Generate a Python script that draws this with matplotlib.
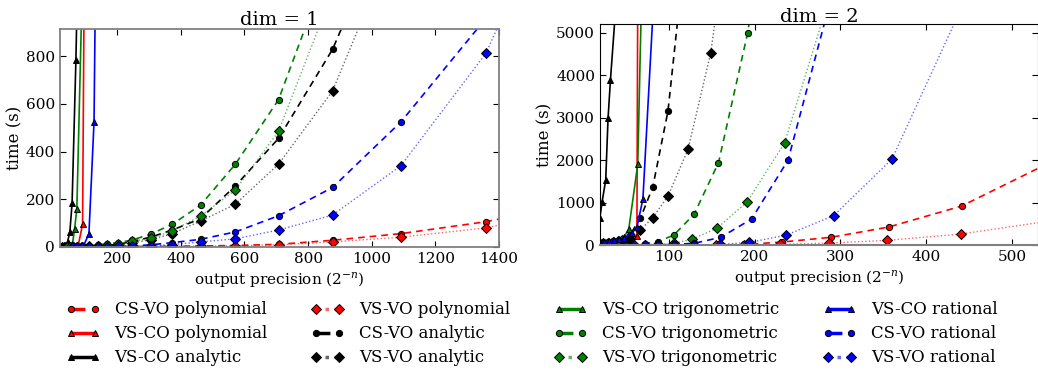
import matplotlib
matplotlib.use('Agg')
import matplotlib.pyplot as plt

plt.rcParams['font.family'] = ['DejaVu Serif']
plt.rcParams['mathtext.fontset'] = 'dejavuserif'
plt.rcParams['lines.dashed_pattern'] = [4, 3]
plt.rcParams['lines.dotted_pattern'] = [1, 1.6]

# ---- dim = 1 ----
# CS-VO / VS-VO runs
poly_cs1_x = [41, 61, 90, 138, 203, 247, 305, 373, 462, 571, 707, 877, 1092, 1359, 1690]
poly_cs1_y = [0, 0, 0.1, 0.2, 0.4, 0.7, 1, 2, 3, 5, 10, 27, 55, 105, 194]
poly_vv1_x = [41, 61, 90, 138, 203, 247, 305, 373, 462, 571, 707, 877, 1092, 1359, 1690]
poly_vv1_y = [0, 0, 0.1, 0.2, 0.3, 0.5, 0.8, 1.5, 2.5, 4, 8, 20, 40, 79, 175]

ana_cs1_x = [27, 33, 41, 50, 61, 74, 90, 110, 138, 167, 203, 247, 305, 373, 462, 571, 707, 877, 1092]
ana_cs1_y = [0, 0, 0, 0.1, 0.2, 0.4, 0.7, 1.2, 3, 5, 10, 22, 40, 70, 118, 255, 455, 830, 1500]
ana_vv1_x = [27, 33, 41, 50, 61, 74, 90, 110, 138, 167, 203, 247, 305, 373, 462, 571, 707, 877, 1092]
ana_vv1_y = [0, 0, 0, 0.1, 0.1, 0.2, 0.4, 0.8, 2, 4, 7, 15, 30, 55, 108, 178, 347, 655, 1350]

trig_cs1_x = [41, 50, 61, 74, 90, 110, 138, 167, 203, 247, 305, 373, 462, 571, 707, 877]
trig_cs1_y = [0, 0.1, 0.2, 0.5, 1, 3, 8, 12, 17, 28, 53, 94, 175, 346, 618, 1230]
trig_vv1_x = [41, 50, 61, 74, 90, 110, 138, 167, 203, 247, 305, 373, 462, 571, 707, 877]
trig_vv1_y = [0, 0.1, 0.2, 0.4, 0.8, 2, 5, 8, 12, 22, 35, 67, 129, 238, 485, 1070]

rat_cs1_x = [61, 74, 90, 110, 138, 167, 203, 247, 305, 373, 462, 571, 707, 877, 1092, 1359]
rat_cs1_y = [0, 0, 0.1, 0.2, 0.4, 0.8, 1.5, 3, 8, 17, 31, 62, 130, 249, 525, 960]
rat_vv1_x = [61, 74, 90, 110, 138, 167, 203, 247, 305, 373, 462, 571, 707, 877, 1092, 1359, 1690]
rat_vv1_y = [0, 0, 0.1, 0.1, 0.3, 0.5, 1, 2, 3, 9, 20, 33, 70, 133, 341, 813, 1800]

# VS-CO runs
ana_vc1_x = [22, 26, 30, 37, 44, 51, 58, 70, 80]
ana_vc1_y = [0, 0.5, 2, 6, 21, 63, 182, 783, 1450]
trig_vc1_x = [37, 44, 51, 59, 66, 73, 90]
trig_vc1_y = [0, 0.5, 3, 10, 75, 160, 1100]
poly_vc1_x = [37, 51, 65, 77, 91, 100]
poly_vc1_y = [0, 0, 0.5, 3, 95, 1900]
rat_vc1_x = [51, 65, 80, 94, 111, 127, 140]
rat_vc1_y = [0, 0, 0.5, 3, 55, 525, 2200]

# ---- dim = 2 ----
poly_cs2_x = [88, 106, 130, 155, 188, 232, 288.5, 356, 441, 545]
poly_cs2_y = [0.5, 1, 2, 5, 20, 78, 188, 430, 924, 1960]
poly_vv2_x = [106, 130, 155, 188, 230, 287, 354, 440, 545]
poly_vv2_y = [0.5, 1, 3, 8, 20, 54, 117, 266, 577]
poly_vc2_x = [20, 25, 30, 36, 42, 48, 56, 63, 64.5]
poly_vc2_y = [5, 10, 15, 20, 30, 50, 85, 220, 9000]

ana_cs2_x = [20, 24, 29, 35, 41, 46, 55, 67, 81.4, 99.2, 121]
ana_cs2_y = [60, 70, 80, 100, 110, 130, 250, 635, 1363, 3160, 7280]
ana_vv2_x = [20, 24, 29, 35, 41, 46, 55, 67, 81.4, 99.2, 122.5, 149, 182]
ana_vv2_y = [40, 50, 60, 80, 100, 120, 150, 360, 650, 1160, 2257, 4530, 9450]
ana_vc2_x = [19.8, 22.5, 26.7, 29.4, 32.2, 38]
ana_vc2_y = [635, 1025, 1535, 2985, 3887, 5500]

trig_cs2_x = [30, 40, 50, 60, 72, 88, 106, 129.5, 158, 192, 235]
trig_cs2_y = [2, 3, 5, 10, 40, 90, 242, 729, 1943, 5000, 10700]
trig_vv2_x = [40, 50, 60, 72, 88, 106, 127, 156, 191.5, 235, 287]
trig_vv2_y = [1, 2, 4, 8, 20, 50, 141, 400, 1025, 2413, 5820]
trig_vc2_x = [20, 25, 30, 36, 42, 48, 53.5, 64, 70]
trig_vc2_y = [40, 60, 80, 100, 130, 200, 376, 1912, 7300]

rat_cs2_x = [50, 60, 72, 88, 106, 130, 160.5, 196.5, 239, 292]
rat_cs2_y = [1, 2, 4, 8, 20, 50, 188, 618, 2006, 6034]
rat_vv2_x = [60, 72, 88, 106, 130, 160, 194, 237, 292, 360, 441]
rat_vv2_y = [1, 2, 3, 5, 10, 20, 70, 242, 697, 2030, 5594]
rat_vc2_x = [20, 25, 30, 36, 42, 48, 57, 63, 70, 85]
rat_vc2_y = [60, 80, 100, 120, 150, 180, 290, 420, 1090, 6700]

colors = {'polynomial': 'r', 'analytic': 'k', 'trigonometric': 'g', 'rational': 'b'}
# linestyle, marker, linewidth, line alpha, marker size
styles = {'CS-VO': ('--', 'o', 1.2, 1.0, 4.5),
          'VS-CO': ('-', '^', 1.2, 1.0, 5),
          'VS-VO': (':', 'D', 1.0, 0.6, 5.3)}

series1 = [
    ('CS-VO', 'polynomial', poly_cs1_x, poly_cs1_y),
    ('VS-CO', 'polynomial', poly_vc1_x, poly_vc1_y),
    ('VS-VO', 'polynomial', poly_vv1_x, poly_vv1_y),
    ('CS-VO', 'analytic', ana_cs1_x, ana_cs1_y),
    ('VS-CO', 'analytic', ana_vc1_x, ana_vc1_y),
    ('VS-VO', 'analytic', ana_vv1_x, ana_vv1_y),
    ('CS-VO', 'trigonometric', trig_cs1_x, trig_cs1_y),
    ('VS-CO', 'trigonometric', trig_vc1_x, trig_vc1_y),
    ('VS-VO', 'trigonometric', trig_vv1_x, trig_vv1_y),
    ('CS-VO', 'rational', rat_cs1_x, rat_cs1_y),
    ('VS-CO', 'rational', rat_vc1_x, rat_vc1_y),
    ('VS-VO', 'rational', rat_vv1_x, rat_vv1_y),
]
series2 = [
    ('CS-VO', 'polynomial', poly_cs2_x, poly_cs2_y),
    ('VS-CO', 'polynomial', poly_vc2_x, poly_vc2_y),
    ('VS-VO', 'polynomial', poly_vv2_x, poly_vv2_y),
    ('CS-VO', 'analytic', ana_cs2_x, ana_cs2_y),
    ('VS-CO', 'analytic', ana_vc2_x, ana_vc2_y),
    ('VS-VO', 'analytic', ana_vv2_x, ana_vv2_y),
    ('CS-VO', 'trigonometric', trig_cs2_x, trig_cs2_y),
    ('VS-CO', 'trigonometric', trig_vc2_x, trig_vc2_y),
    ('VS-VO', 'trigonometric', trig_vv2_x, trig_vv2_y),
    ('CS-VO', 'rational', rat_cs2_x, rat_cs2_y),
    ('VS-CO', 'rational', rat_vc2_x, rat_vc2_y),
    ('VS-VO', 'rational', rat_vv2_x, rat_vv2_y),
]

# legend order, read column by column
legend_order = [
    'CS-VO polynomial', 'VS-CO polynomial', 'VS-CO analytic',
    'VS-VO polynomial', 'CS-VO analytic', 'VS-VO analytic',
    'VS-CO trigonometric', 'CS-VO trigonometric', 'VS-VO trigonometric',
    'VS-CO rational', 'CS-VO rational', 'VS-VO rational',
]

fig = plt.figure(figsize=(10.38, 3.74), dpi=100)
ax1 = fig.add_axes([0.0578, 0.3404, 0.4229, 0.582])
ax2 = fig.add_axes([0.578, 0.344, 0.422, 0.591])


def draw(ax, series):
    handles = {}
    for method, func, xs, ys in series:
        ls, mk, lw, alpha, ms = styles[method]
        c = colors[func]
        line, = ax.plot(xs, ys, linestyle=ls, marker=mk,
                        color=matplotlib.colors.to_rgba(c, alpha), lw=lw,
                        markersize=ms, markeredgecolor='k',
                        markeredgewidth=0.7, markerfacecolor=c)
        handles[method + ' ' + func] = line
    ax.tick_params(direction='in', top=True, right=True, labelsize=11, length=4)
    ax.set_xlabel(r'output precision ($2^{-n}$)', fontsize=11, labelpad=3)
    ax.set_ylabel('time (s)', fontsize=12, labelpad=2)
    return handles


h1 = draw(ax1, series1)
ax1.set_xlim(20, 1400)
ax1.set_ylim(0, 915)
ax1.set_xticks([200, 400, 600, 800, 1000, 1200, 1400])
ax1.set_yticks([0, 200, 400, 600, 800])
ax1.set_title('dim = 1', fontsize=14, pad=3)
for sp in ax1.spines.values():
    sp.set_color('#808080')
    sp.set_linewidth(1.3)

draw(ax2, series2)
ax2.set_xlim(20, 530)
ax2.set_ylim(0, 5200)
ax2.set_xticks([100, 200, 300, 400, 500])
ax2.set_yticks([0, 1000, 2000, 3000, 4000, 5000])
ax2.set_title('dim = 2', fontsize=14, pad=2)
ax2.spines['bottom'].set_color('#808080')
ax2.spines['bottom'].set_linewidth(1.5)

leg = fig.legend([h1[k] for k in legend_order], legend_order, loc='center',
                 bbox_to_anchor=(0.5125, 0.107), ncol=4, frameon=False,
                 fontsize=12, numpoints=2, handlelength=2.0, handletextpad=0.9,
                 columnspacing=2.6, labelspacing=0.42)
for ln in leg.get_lines():
    ln.set_linewidth(2.5)

fig.savefig('out.png', dpi=100)
